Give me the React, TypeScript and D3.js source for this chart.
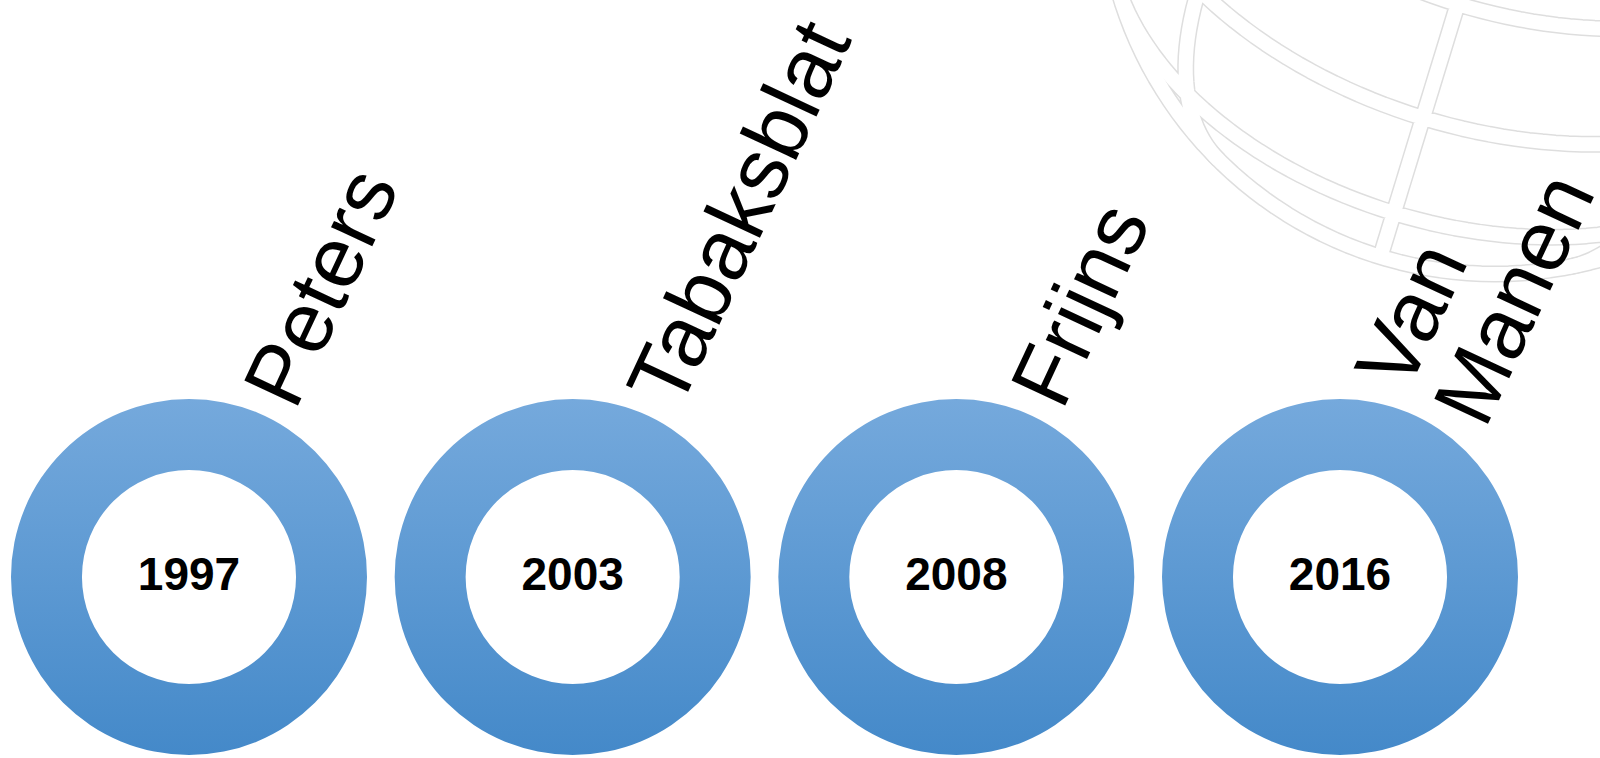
import React, { useEffect, useRef } from "react";
import * as d3 from "d3";

// timeline entries
const years = ["1997", "2003", "2008", "2016"];
const names = ["Peters", "Tabaksblat", "Frijns", "Van Manen"];

// background globe grid (degrees)
const globeParallels = [40, 20, 0, -23];
const globeMeridians = [-120, -80, -40, 0, 40, 80, 120];

const W = 1600;
const H = 758;

export default function App() {
  const ref = useRef<SVGSVGElement>(null);

  useEffect(() => {
    const svg = d3.select(ref.current);
    svg.selectAll("*").remove();

    const defs = svg.append("defs");
    const grad = defs.append("linearGradient")
      .attr("id", "ringGrad")
      .attr("x1", 0).attr("y1", 0).attr("x2", 0).attr("y2", 1);
    grad.append("stop").attr("offset", "0%").attr("stop-color", "#75a9dc");
    grad.append("stop").attr("offset", "100%").attr("stop-color", "#4489c9");

    // faint wireframe globe in the top right corner
    const projection = d3.geoOrthographic()
      .scale(392)
      .translate([1495, -118])
      .rotate([0, -39, -17])
      .clipAngle(90);
    const geoPath = d3.geoPath(projection);
    const grid = {
      type: "MultiLineString",
      coordinates: [
        ...globeParallels.map((lat) => d3.range(-180, 180.1, 2).map((lon) => [lon, lat])),
        ...globeMeridians.map((lon) => d3.range(-90, 90.1, 2).map((lat) => [lon, lat])),
      ],
    };
    const shapes: any[] = [{ type: "Sphere" }, grid];
    const globe = svg.append("g").attr("fill", "none").attr("stroke-linejoin", "round");
    [["#dedede", 17], ["#ffffff", 14]].forEach(([col, w]) => {
      globe.append("g")
        .selectAll("path")
        .data(shapes)
        .enter()
        .append("path")
        .attr("d", (d) => geoPath(d) || "")
        .attr("stroke", col as string)
        .attr("stroke-width", w as number);
    });

    // rings
    const x = d3.scalePoint<string>().domain(years).range([189, 1340]);
    const cy = 577;
    const outerR = 178;
    const innerR = 107;
    const arc = d3.arc<any>()
      .innerRadius(innerR)
      .outerRadius(outerR)
      .startAngle(0)
      .endAngle(2 * Math.PI);

    const items = svg.selectAll("g.item")
      .data(years)
      .enter()
      .append("g")
      .attr("class", "item");

    items.append("path")
      .attr("transform", (d) => `translate(${x(d)},${cy})`)
      .attr("d", () => arc({}) as string)
      .attr("fill", "url(#ringGrad)");

    items.append("text")
      .attr("x", (d) => x(d)!)
      .attr("y", cy + 13)
      .attr("text-anchor", "middle")
      .attr("font-family", "'Liberation Sans', Arial, sans-serif")
      .attr("font-weight", "bold")
      .attr("font-size", 46)
      .attr("fill", "#000")
      .text((d) => d);

    // rotated names, block centred on the anchor
    const lineH = 86;
    const label = items.append("text")
      .attr("transform", (d) => `translate(${x(d)! + 106},${412}) rotate(-65)`)
      .attr("font-family", "'Liberation Sans', Arial, sans-serif")
      .attr("font-size", 86)
      .attr("fill", "#000");

    label.each(function (d, i) {
      const lines = names[i].split(" ");
      d3.select(this)
        .selectAll("tspan")
        .data(lines)
        .enter()
        .append("tspan")
        .attr("x", 0)
        .attr("y", (_, k) => (k - (lines.length - 1) / 2) * lineH)
        .text((t) => t);
    });
  }, []);

  return (
    <svg
      ref={ref}
      width={W}
      height={H}
      style={{ position: "absolute", left: 0, top: 0, display: "block", background: "#fff" }}
    />
  );
}
